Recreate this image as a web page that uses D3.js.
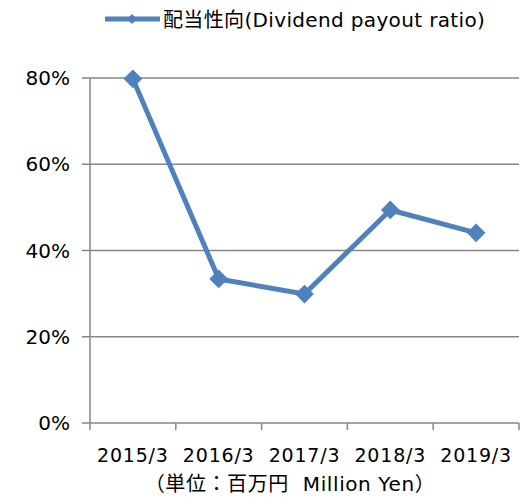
<!DOCTYPE html>
<html>
<head>
    <meta charset="UTF-8">
    <title>Dividend payout ratio</title>
    <script src="https://d3js.org/d3.v7.min.js"></script>
    <style>
        body { margin: 0; background: #fff; }
        text { font-family: "DejaVu Sans", "Noto Sans CJK JP", sans-serif; fill: #000; }
    </style>
</head>
<body>
    <script>
        const years = ["2015/3", "2016/3", "2017/3", "2018/3", "2019/3"];
        const payout = [79.8, 33.4, 29.9, 49.4, 44.1];
        const yTicks = [0, 20, 40, 60, 80];
        const seriesName = "配当性向(Dividend payout ratio)";
        const unitNote = "（単位：百万円  Million Yen）";

        const width = 528, height = 497;
        const plotL = 90, plotR = 519, plotT = 78, plotB = 423;
        const blue = "#4f81bd", grey = "#868686";

        const svg = d3.select("body").append("svg")
            .attr("width", width).attr("height", height);

        const x = d3.scaleBand().domain(years).range([plotL, plotR]);
        const y = d3.scaleLinear().domain([0, 80]).range([plotB, plotT]);

        // horizontal grid
        svg.selectAll(".grid").data(yTicks).enter().append("line")
            .attr("x1", plotL - 8).attr("x2", plotR)
            .attr("y1", d => y(d)).attr("y2", d => y(d))
            .attr("stroke", grey).attr("stroke-width", 1.5);

        // y axis line
        svg.append("line")
            .attr("x1", plotL).attr("x2", plotL).attr("y1", plotT).attr("y2", plotB)
            .attr("stroke", grey).attr("stroke-width", 1.5);

        // x ticks
        const edges = years.map(d => x(d)).concat([plotR]);
        svg.selectAll(".xtick").data(edges).enter().append("line")
            .attr("x1", d => d).attr("x2", d => d)
            .attr("y1", plotB).attr("y2", plotB + 7)
            .attr("stroke", grey).attr("stroke-width", 1.5);

        svg.selectAll(".ylab").data(yTicks).enter().append("text")
            .attr("x", 70).attr("y", d => y(d) + 7)
            .attr("text-anchor", "end").attr("font-size", 20)
            .text(d => d + "%");

        svg.selectAll(".xlab").data(years).enter().append("text")
            .attr("x", d => x(d) + x.bandwidth() / 2).attr("y", 462)
            .attr("text-anchor", "middle").attr("font-size", 19)
            .attr("letter-spacing", 0.8)
            .text(d => d);

        svg.append("text")
            .attr("x", 290).attr("y", 491)
            .attr("text-anchor", "middle").attr("font-size", 20)
            .attr("letter-spacing", 0.6)
            .attr("xml:space", "preserve")
            .text(unitNote);

        // series line
        const line = d3.line()
            .x((d, i) => x(years[i]) + x.bandwidth() / 2)
            .y(d => y(d));

        svg.append("path").datum(payout)
            .attr("d", line)
            .attr("fill", "none").attr("stroke", blue)
            .attr("stroke-width", 5).attr("stroke-linejoin", "round");

        // diamond markers: squares turned 45 degrees
        const marker = d3.symbol().type(d3.symbolSquare).size(175);
        svg.selectAll(".pt").data(payout).enter().append("path")
            .attr("d", marker)
            .attr("transform", (d, i) => `translate(${x(years[i]) + x.bandwidth() / 2},${y(d)}) rotate(45)`)
            .attr("fill", blue);

        // legend
        svg.append("line")
            .attr("x1", 105).attr("x2", 160).attr("y1", 19).attr("y2", 19)
            .attr("stroke", blue).attr("stroke-width", 5);
        svg.append("path")
            .attr("d", d3.symbol().type(d3.symbolSquare).size(50))
            .attr("transform", "translate(132,19) rotate(45)")
            .attr("fill", blue);
        svg.append("text")
            .attr("x", 163).attr("y", 27)
            .attr("font-size", 20)
            .attr("letter-spacing", 0.35)
            .text(seriesName);
    </script>
</body>
</html>
